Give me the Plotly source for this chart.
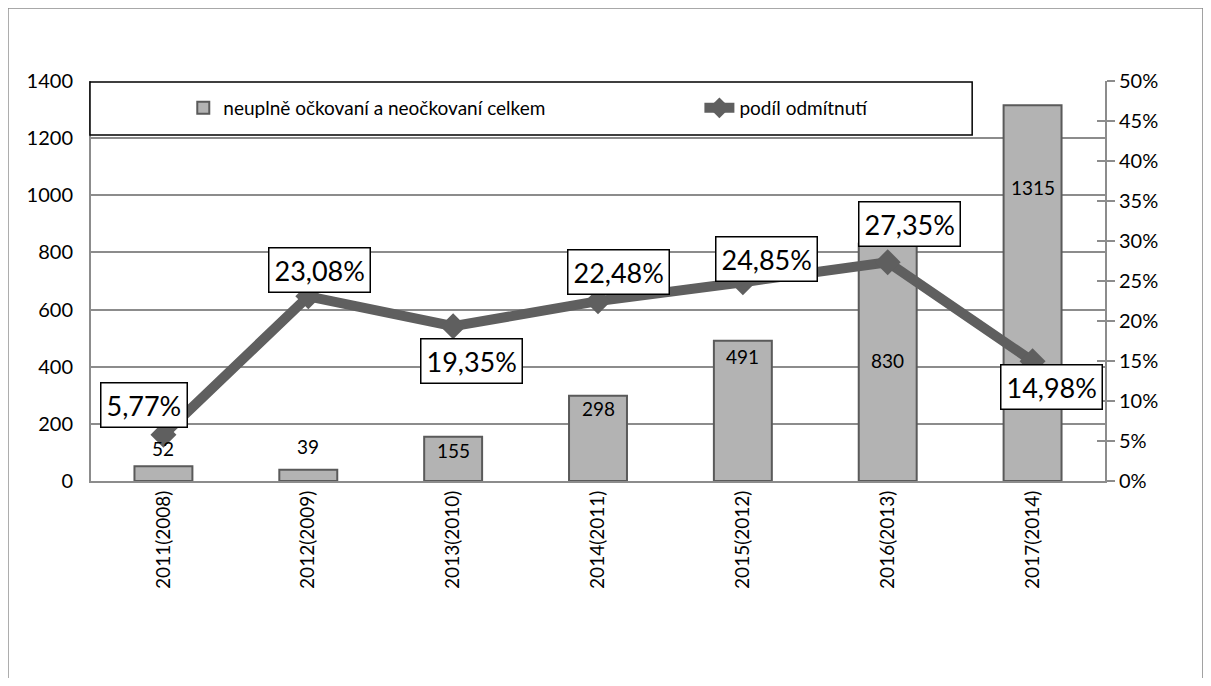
import plotly.graph_objects as go

categories = ["2011(2008)", "2012(2009)", "2013(2010)", "2014(2011)",
              "2015(2012)", "2016(2013)", "2017(2014)"]
unvaccinated = [52, 39, 155, 298, 491, 830, 1315]
refusal_pct = [5.77, 23.08, 19.35, 22.48, 24.85, 27.35, 14.98]

bar_name = "neuplně očkovaní a neočkovaní celkem"
line_name = "podíl odmítnutí"

# label placement (data units / pixel shifts)
bar_label_y = [115, 122, 108, 255, 437, 423, 1029]
line_label_shift = [(-19, 30), (11, 26), (18, -35), (20, 29), (24, 23), (22, 38), (19, -26)]

FONT = "Lato, 'Open Sans', sans-serif"
BAR_FILL = "#b3b3b3"
BAR_LINE = "#5a5a5a"
LINE_COL = "#5f5f5f"
AXIS_COL = "#8c8c8c"

fig = go.Figure()
fig.add_trace(go.Bar(
    x=categories, y=unvaccinated, name=bar_name, width=0.4,
    marker=dict(color=BAR_FILL, line=dict(color=BAR_LINE, width=2)),
    yaxis="y", legend="legend",
))
fig.add_trace(go.Scatter(
    x=categories, y=refusal_pct, name=line_name, mode="lines+markers",
    line=dict(color=LINE_COL, width=10),
    marker=dict(symbol="diamond", size=20, color=LINE_COL),
    yaxis="y2", legend="legend2",
))
fig.add_trace(go.Scatter(x=[categories[0]], y=[None], yaxis="y3", showlegend=False,
                         hoverinfo="skip", mode="markers"))

annotations = []
for c, v, ly in zip(categories, unvaccinated, bar_label_y):
    annotations.append(dict(x=c, y=ly, xref="x", yref="y", text=str(v), showarrow=False,
                            font=dict(family=FONT, size=19, color="black")))
for c, v, (dx, dy) in zip(categories, refusal_pct, line_label_shift):
    annotations.append(dict(x=c, y=v, xref="x", yref="y2",
                            text=f"{v:.2f}%".replace(".", ","), showarrow=False,
                            xshift=dx, yshift=dy, bgcolor="white", bordercolor="black",
                            borderwidth=1.5, borderpad=5,
                            font=dict(family=FONT, size=27, color="black")))

shapes = [
    # outer chart border
    dict(type="rect", xref="paper", yref="paper", x0=-0.0819, x1=1.0966, y0=-0.55, y1=1.1825,
         line=dict(color="#8c8c8c", width=1.5), fillcolor="rgba(0,0,0,0)", layer="below"),
    # legend box
    dict(type="rect", xref="paper", yref="paper", x0=-0.001, x1=0.869, y0=0.865, y1=0.9975,
         line=dict(color="black", width=1.5), fillcolor="white", layer="above"),
]

legend_common = dict(orientation="h", yanchor="middle", xanchor="left", y=0.9325,
                     bgcolor="rgba(0,0,0,0)", borderwidth=0, itemwidth=30,
                     font=dict(family=FONT, size=19, color="black"))

fig.update_layout(
    width=1195, height=670,
    margin=dict(l=83, r=98, t=73, b=197),
    paper_bgcolor="white", plot_bgcolor="white",
    font=dict(family=FONT, size=20, color="black"),
    bargap=0.6,
    showlegend=True,
    legend=dict(x=0.091, **legend_common),
    legend2=dict(x=0.6, **legend_common),
    xaxis=dict(type="category", showline=True, linecolor=AXIS_COL, linewidth=2,
               tickangle=-90, tickfont=dict(family=FONT, size=19), ticks="",
               showgrid=False, range=[-0.5, 6.5]),
    yaxis=dict(range=[0, 1400], tickvals=[0, 200, 400, 600, 800, 1000, 1200, 1400],
               showline=True, linecolor=AXIS_COL, linewidth=2, ticks="",
               showgrid=True, gridcolor=AXIS_COL, gridwidth=1.5, zeroline=False,
               tickfont=dict(family=FONT, size=20), ticklabelstandoff=12),
    yaxis2=dict(range=[0, 50], overlaying="y", side="right", anchor="x",
                tickvals=list(range(0, 55, 5)), ticktext=[f"{t}%" for t in range(0, 55, 5)],
                showline=True, linecolor=AXIS_COL, linewidth=2, ticks="outside", ticklen=8,
                tickcolor=AXIS_COL, tickwidth=2, showgrid=False, zeroline=False,
                tickfont=dict(family=FONT, size=20)),
    yaxis3=dict(range=[0, 50], overlaying="y", side="right", anchor="x",
                tickvals=list(range(0, 55, 5)), showticklabels=False,
                showline=False, ticks="inside", ticklen=8, tickcolor=AXIS_COL, tickwidth=2,
                showgrid=False, zeroline=False),
    annotations=annotations,
    shapes=shapes,
)

fig.write_html("out.html")
